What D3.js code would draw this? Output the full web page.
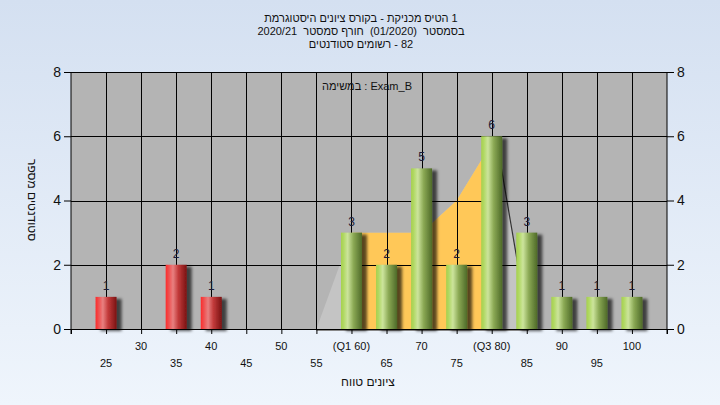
<!DOCTYPE html>
<html><head><meta charset="utf-8">
<script src="https://cdn.jsdelivr.net/npm/d3@7"></script>
<style>
html,body{margin:0;padding:0;}
body{width:720px;height:405px;overflow:hidden;}
text{font-family:"Liberation Sans","DejaVu Sans",Arial,sans-serif;}
</style></head>
<body>
<svg id="chart" width="720" height="405"></svg>
<script>
// ---- data ----
const binCenters = [25, 35, 40, 60, 65, 70, 75, 80, 85, 90, 95, 100];
const binCounts  = [1, 2, 1, 3, 2, 5, 2, 6, 3, 1, 1, 1];
const passMark = 55;
const curveX = [55, 60, 65, 70, 75, 80.6, 85.3];
const curveY = [0, 3, 3, 3, 4, 6, 0];
const q1 = 60, q3 = 80;
const xTickValues = [25, 30, 35, 40, 45, 50, 55, 60, 65, 70, 75, 80, 85, 90, 95, 100];
const xTickLabels = ["25", "30", "35", "40", "45", "50", "55", "(Q1 60)", "65", "70", "75", "(Q3 80)", "85", "90", "95", "100"];
const yTickValues = [0, 2, 4, 6, 8];
// words listed in the order they appear on screen, left to right
const titleLine1 = ["היסטוגרמת", "ציונים", "בקורס", "-", "מכניקת", "הטיס", "1"];
const titleLine2 = ["2020/21", " סמסטר", "חורף", " (01/2020)", " בסמסטר"];
const titleLine3 = ["סטודנטים", "רשומים", "-", "82"];
const examLabel = ["במשימה", ":", "Exam_B"];
const xTitle = ["טווח", "ציונים"];
const yTitle = ["מספר", "סטודנטים"];

const LRM = "\u200E";
const visual = words => words.join(LRM + " ") + LRM;

// ---- setup ----
const svg = d3.select("#chart");
const W = 720, H = 405;
const x = d3.scaleLinear().domain([20, 105]).range([71, 667]);
const y = d3.scaleLinear().domain([0, 8]).range([329, 72]);
const barW = 21;

const defs = svg.append("defs");
const bg = defs.append("linearGradient").attr("id", "bg").attr("x1", 0).attr("y1", 0).attr("x2", 0).attr("y2", 1);
bg.append("stop").attr("offset", "0%").attr("stop-color", "#d4e0f1");
bg.append("stop").attr("offset", "100%").attr("stop-color", "#eff5fc");

function barGrad(id, stops) {
  const g = defs.append("linearGradient").attr("id", id).attr("x1", 0).attr("y1", 0).attr("x2", 1).attr("y2", 0);
  stops.forEach(s => g.append("stop").attr("offset", s[0]).attr("stop-color", s[1]));
}
barGrad("gRed", [["0%", "#ff2a2a"], ["12%", "#f04848"], ["35%", "#e88080"], ["60%", "#c23a3a"], ["100%", "#7a1414"]]);
barGrad("gGreen", [["0%", "#a6d04e"], ["12%", "#b0d862"], ["32%", "#cce49c"], ["60%", "#8aa854"], ["100%", "#4e6a28"]]);

const sh = defs.append("filter").attr("id", "shadow").attr("x", "-20%").attr("y", "-20%").attr("width", "160%").attr("height", "140%");
sh.append("feDropShadow").attr("dx", 5).attr("dy", 2).attr("stdDeviation", 1.8)
  .attr("flood-color", "#000").attr("flood-opacity", 0.65);

defs.append("clipPath").attr("id", "qclip").append("rect")
  .attr("x", x(q1)).attr("y", y(8)).attr("width", x(q3) - x(q1)).attr("height", y(0) - y(8));

svg.append("rect").attr("width", W).attr("height", H).attr("fill", "url(#bg)");

// plot background
svg.append("rect").attr("x", x(20)).attr("y", y(8)).attr("width", x(105) - x(20)).attr("height", y(0) - y(8)).attr("fill", "#b4b4b4");

// distribution area
const pts = curveX.map((v, i) => [v, curveY[i]]);
const area = d3.area().x(d => x(d[0])).y0(y(0)).y1(d => y(d[1]));
svg.append("path").datum(pts).attr("d", area).attr("fill", "#c4c4c4");
svg.append("path").datum(pts).attr("d", area).attr("fill", "#ffc858").attr("clip-path", "url(#qclip)");
const line = d3.line().x(d => x(d[0])).y(d => y(d[1]));
svg.append("path").datum(pts.filter(d => d[0] > q3)).attr("d", line).attr("fill", "none").attr("stroke", "#333").attr("stroke-width", 1.2);
svg.append("line").attr("x1", x(curveX[0])).attr("x2", x(curveX[curveX.length - 1])).attr("y1", y(0) + 1.5).attr("y2", y(0) + 1.5).attr("stroke", "#888").attr("stroke-width", 1);

// grid
const grid = svg.append("g").attr("stroke", "#000").attr("stroke-width", 1).attr("shape-rendering", "crispEdges");
grid.selectAll("line.v").data(xTickValues).enter().append("line")
  .attr("x1", d => Math.round(x(d)) + 0.5).attr("x2", d => Math.round(x(d)) + 0.5).attr("y1", y(8)).attr("y2", y(0));
grid.selectAll("line.h").data(yTickValues).enter().append("line")
  .attr("y1", d => Math.round(y(d)) + 0.5).attr("y2", d => Math.round(y(d)) + 0.5).attr("x1", x(20)).attr("x2", x(105));

// bars
const bars = binCenters.map((c, i) => ({c, n: binCounts[i]}));
svg.append("g").selectAll("rect").data(bars).enter().append("rect")
  .attr("x", d => x(d.c) - barW / 2).attr("width", barW)
  .attr("y", d => y(d.n)).attr("height", d => y(0) - y(d.n))
  .attr("fill", d => d.c < passMark ? "url(#gRed)" : "url(#gGreen)")
  .attr("filter", "url(#shadow)");

svg.append("g").selectAll("text").data(bars).enter().append("text")
  .attr("x", d => x(d.c)).attr("y", d => y(d.n) - 7)
  .attr("text-anchor", "middle").attr("font-size", 12).attr("fill", "#1c1c38")
  .text(d => d.n);

// axes
const axisStyle = g => {
  g.select(".domain").attr("stroke", "#000");
  g.selectAll(".tick line").attr("stroke", "#000");
  g.selectAll("text").attr("font-family", "Liberation Sans, DejaVu Sans, Arial, sans-serif").attr("fill", "#111");
};
const xAxis = svg.append("g").attr("transform", `translate(0,${y(0)})`)
  .call(d3.axisBottom(x).tickValues([20].concat(xTickValues, [105])).tickSize(5).tickSizeOuter(0).tickFormat(""));
axisStyle(xAxis);

const xl = svg.append("g");
xl.selectAll("text").data(xTickValues).enter().append("text")
  .attr("x", d => x(d))
  .attr("y", (d, i) => i % 2 === 0 ? 367 : 350)
  .attr("text-anchor", "middle").attr("font-size", 11).attr("fill", "#111")
  .text((d, i) => xTickLabels[i]);

const yAxisL = svg.append("g").attr("transform", `translate(${x(20)},0)`)
  .call(d3.axisLeft(y).tickValues(yTickValues).tickSize(7).tickSizeOuter(0).tickPadding(3));
axisStyle(yAxisL);
yAxisL.selectAll("text").attr("font-size", 14);
yAxisL.select(".domain").attr("d", `M0,${y(8)}V${y(0) + 5}`);

const yAxisR = svg.append("g").attr("transform", `translate(${x(105)},0)`)
  .call(d3.axisRight(y).tickValues(yTickValues).tickSize(7).tickSizeOuter(0).tickPadding(3));
axisStyle(yAxisR);
yAxisR.selectAll("text").attr("font-size", 14);
yAxisR.select(".domain").attr("d", `M0,${y(8)}V${y(0) + 5}`);

// plot top border
svg.append("line").attr("x1", x(20)).attr("x2", x(105)).attr("y1", y(8) + 0.5).attr("y2", y(8) + 0.5)
  .attr("stroke", "#000");

// titles
svg.append("g").selectAll("text").data([titleLine1, titleLine2, titleLine3]).enter().append("text")
  .attr("x", 361).attr("y", (d, i) => 22 + i * 13)
  .attr("text-anchor", "middle").attr("direction", "ltr").attr("font-size", 11)
  .style("white-space", "pre").attr("fill", "#111")
  .text(d => visual(d));

svg.append("text").attr("x", 367).attr("y", 90).attr("text-anchor", "middle")
  .attr("direction", "ltr").attr("font-size", 11).attr("fill", "#111").text(visual(examLabel));

svg.append("text").attr("x", 368).attr("y", 386).attr("text-anchor", "middle")
  .attr("direction", "ltr").attr("font-size", 12).attr("fill", "#111").text(visual(xTitle));

svg.append("text").attr("transform", "translate(28,200) rotate(90)").attr("text-anchor", "middle")
  .attr("direction", "ltr").attr("font-size", 12).attr("fill", "#111").text(visual(yTitle));
</script>
</body></html>
